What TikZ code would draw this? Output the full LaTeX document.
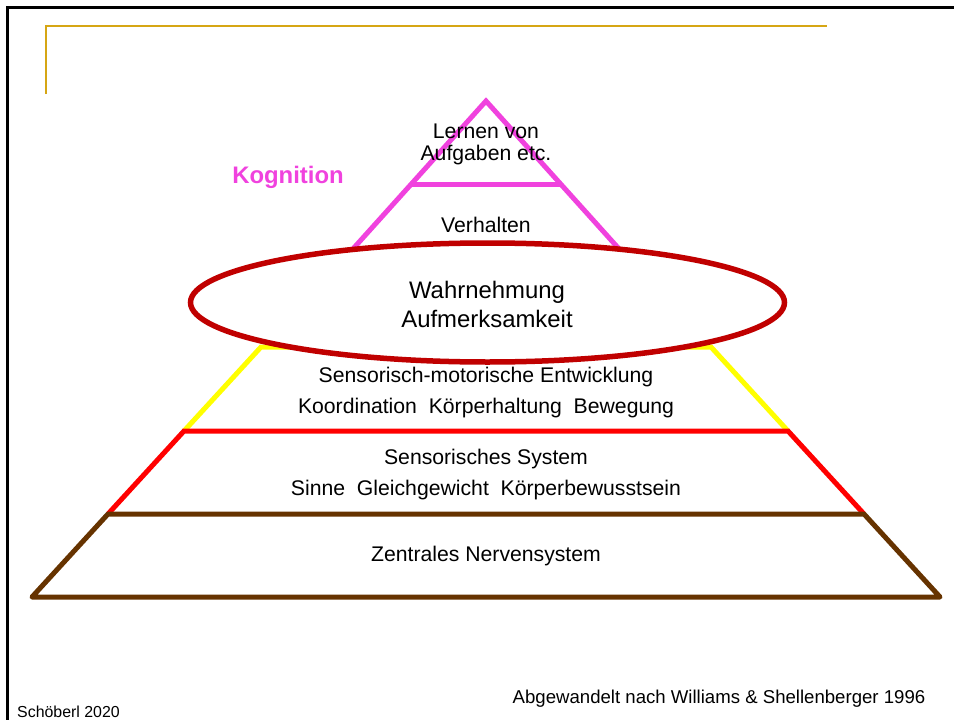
\documentclass[tikz,border=0pt]{standalone}
\usepackage{fontspec}
\setmainfont{Liberation Sans}

\definecolor{cogpink}{RGB}{240,66,222}
\definecolor{percred}{RGB}{192,0,0}
\definecolor{smyellow}{RGB}{255,255,0}
\definecolor{sensred}{RGB}{255,0,0}
\definecolor{znsbrown}{RGB}{102,51,0}
\definecolor{titlegold}{RGB}{214,166,20}

\newcommand{\PYRmid}{486}
\newcommand{\PYRlw}{5pt}

\begin{document}
\begin{tikzpicture}[x=1pt,y=-1pt,
	cog/.style={draw=cogpink,line width=\PYRlw},
	smotor/.style={draw=smyellow,line width=\PYRlw},
	sens/.style={draw=sensred,line width=\PYRlw},
	zns/.style={draw=znsbrown,line width=\PYRlw,line join=round},
	perc/.style={draw=percred,line width=5.5pt,fill=white},
	lbl/.style={inner sep=0pt,align=center,font=\fontsize{21.2}{31}\selectfont}]

	\useasboundingbox (0,0) rectangle (954,720);

	%The slide frame
	\draw[line width=3pt] (7.5,720) -- (7.5,7.5) -- (954,7.5);
	\draw[draw=titlegold,line width=2pt] (46,94) -- (46,26) -- (827,26);

	%The pink top (cognition)
	\draw[cog] (316,290) -- (\PYRmid,101) -- (656,290);
	\draw[cog] (410,184) -- (562,184);

	%The yellow level
	\draw[smotor] (184,431) -- (261,347) -- (711,347) -- (788,431);

	%The red level
	\draw[sens] (108,514) -- (184,431) -- (788,431) -- (864,514);

	%The brown base
	\draw[zns] (108,514) -- (32,597) -- (940,597) -- (864,514) -- cycle;

	%The ellipse on top
	\draw[perc] (487.5,302.5) ellipse [x radius=297, y radius=59.5];

	%The texts of the levels
	\node[lbl,font=\fontsize{21.2}{22}\selectfont] (lernen) at (\PYRmid,144) {Lernen von\\Aufgaben etc.};
	\node[lbl] (verhalten) at (\PYRmid,225) {Verhalten};
	\node[lbl,font=\fontsize{23.9}{29}\selectfont] (wahrnehmung) at (487,304) {Wahrnehmung\\Aufmerksamkeit};
	\node[lbl] (sensomotor) at (\PYRmid,393) {Sensorisch-motorische Entwicklung\\Koordination\ \ Körperhaltung\ \ Bewegung};
	\node[lbl] (sensorik) at (\PYRmid,475) {Sensorisches System\\Sinne\ \ Gleichgewicht\ \ Körperbewusstsein};
	\node[lbl] (zns) at (\PYRmid,556) {Zentrales Nervensystem};

	\node[inner sep=0pt,text=cogpink,font=\fontsize{23.9}{29}\selectfont\bfseries] (kognition) at (288,177) {Kognition};

	%Sources
	\node[inner sep=0pt,anchor=west,font=\fontsize{15.9}{19}\selectfont] (autor) at (17,712) {Schöberl 2020};
	\node[inner sep=0pt,font=\fontsize{18.6}{22}\selectfont] (quelle) at (719,699) {Abgewandelt nach Williams \& Shellenberger 1996};

\end{tikzpicture}
\end{document}
